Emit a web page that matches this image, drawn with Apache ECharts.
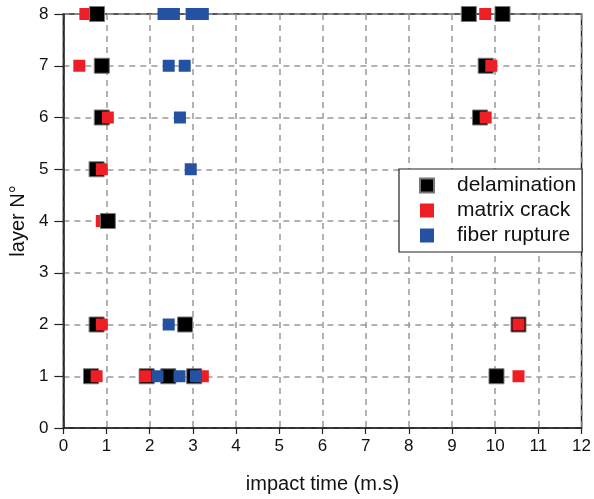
<!DOCTYPE html>
<html>
<head>
<meta charset="utf-8">
<script src="https://cdn.jsdelivr.net/npm/echarts@6/dist/echarts.min.js"></script>
<style>
  html, body { margin: 0; padding: 0; background: #fff; }
  #chart { width: 594px; height: 499px; }
</style>
</head>
<body>
<div id="chart"></div>
<script>
// [impact time (ms), layer]
const delamination = [
  [9.39, 8], [10.17, 8], [0.89, 7], [9.78, 7], [0.89, 6], [9.65, 6],
  [0.77, 5], [0.77, 2], [2.82, 2], [10.54, 2], [0.64, 1], [1.93, 1],
  [2.43, 1], [3.03, 1], [10.03, 1]
];
// delamination marks drawn above the red ones
const delaminationTop = [[0.78, 8], [1.03, 4]];
const matrixCrack = [
  [0.51, 8], [9.77, 8], [0.37, 7], [9.91, 7], [1.03, 6], [9.78, 6],
  [0.89, 5], [0.89, 4], [0.89, 2], [10.54, 2], [0.77, 1], [1.90, 1],
  [3.23, 1], [10.54, 1]
];
const fiberRupture = [
  [2.32, 8], [2.56, 8], [2.97, 8], [3.23, 8], [2.44, 7], [2.81, 7],
  [2.70, 6], [2.95, 5], [2.44, 2], [2.18, 1], [2.69, 1], [3.07, 1]
];
const seriesNames = ["delamination", "matrix crack", "fiber rupture"];

const FONT = "Liberation Sans, Arial, sans-serif";
const BLACK = "#000000";
const RED = "#ed1f24";
const BLUE = "#2551a3";

const chart = echarts.init(document.getElementById("chart"));

const blackStyle = { color: BLACK, borderColor: "#777", borderWidth: 1, opacity: 1 };

chart.setOption({
  animation: false,
  grid: {
    left: 62,
    right: 9,
    top: 14,
    bottom: 69,
    show: true,
    borderColor: "#222",
    borderWidth: 1.5,
  },
  legend: {
    data: seriesNames,
    orient: "vertical",
    left: 399,
    top: 169,
    padding: [6, 6, 6, 20],
    itemGap: 4,
    itemWidth: 14,
    itemHeight: 14,
    icon: "rect",
    backgroundColor: "#fff",
    borderColor: "#222",
    borderWidth: 1.2,
    borderRadius: 0,
    textStyle: {
      fontFamily: FONT,
      fontSize: 21,
      color: "#111",
      padding: [0, 0, 0, 18],
    },
  },
  xAxis: {
    type: "value",
    min: 0,
    max: 12,
    interval: 1,
    name: "impact time (m.s)",
    nameLocation: "middle",
    nameGap: 46,
    nameTextStyle: { fontFamily: FONT, fontSize: 20, color: "#111" },
    axisLine: { lineStyle: { color: "#222", width: 1.5 } },
    axisTick: { show: true, length: 6, lineStyle: { color: "#222", width: 1.2 } },
    axisLabel: { fontFamily: FONT, fontSize: 17, color: "#111", margin: 10 },
    splitLine: { show: true, lineStyle: { color: "#999", width: 1.5, type: [6, 5] } },
  },
  yAxis: {
    type: "value",
    min: 0,
    max: 8,
    interval: 1,
    name: "layer N°",
    nameLocation: "middle",
    nameGap: 34,
    nameTextStyle: { fontFamily: FONT, fontSize: 20, color: "#111" },
    axisLine: { show: true, lineStyle: { color: "#222", width: 1.5 } },
    axisTick: { show: true, length: 9, lineStyle: { color: "#222", width: 1.2 } },
    axisLabel: { fontFamily: FONT, fontSize: 17, color: "#111", margin: 15 },
    splitLine: { show: true, lineStyle: { color: "#999", width: 1.5, type: [6, 5] } },
  },
  series: [
    {
      name: seriesNames[0],
      type: "scatter",
      data: delamination,
      symbol: "rect",
      symbolSize: 15,
      clip: false,
      z: 2,
      itemStyle: blackStyle,
    },
    {
      name: seriesNames[1],
      type: "scatter",
      data: matrixCrack,
      symbol: "rect",
      symbolSize: 12,
      clip: false,
      z: 3,
      itemStyle: { color: RED, opacity: 1 },
    },
    {
      name: seriesNames[2],
      type: "scatter",
      data: fiberRupture,
      symbol: "rect",
      symbolSize: 12,
      clip: false,
      z: 4,
      itemStyle: { color: BLUE, opacity: 1 },
    },
    {
      name: seriesNames[0],
      type: "scatter",
      data: delaminationTop,
      symbol: "rect",
      symbolSize: 15,
      clip: false,
      z: 5,
      itemStyle: blackStyle,
    },
  ],
});
</script>
</body>
</html>
